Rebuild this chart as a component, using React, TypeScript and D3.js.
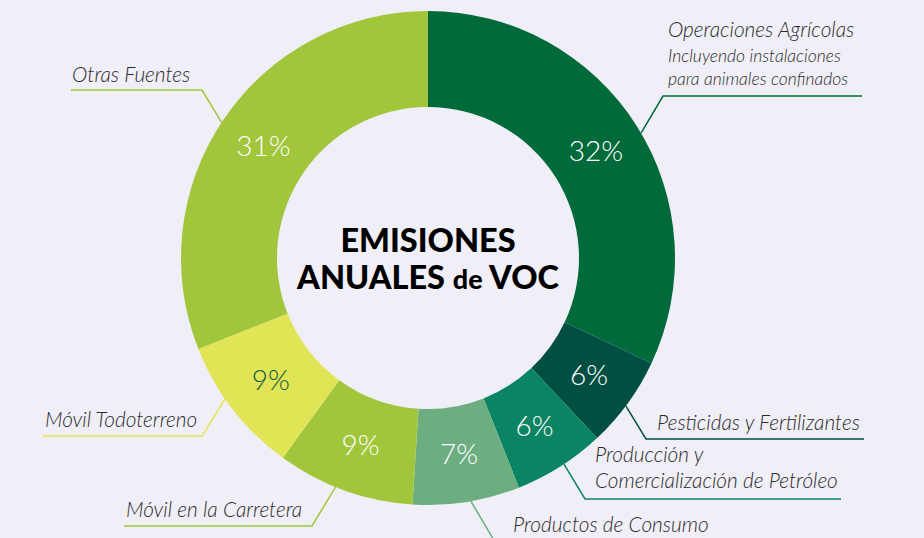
import React, { useEffect, useRef } from "react";
import * as d3 from "d3";

// slices clockwise from 12 o'clock
const categories = [
  "Operaciones Agrícolas",
  "Pesticidas y Fertilizantes",
  "Producción y Comercialización de Petróleo",
  "Productos de Consumo",
  "Móvil en la Carretera",
  "Móvil Todoterreno",
  "Otras Fuentes",
];
const shares = [32, 6, 6, 7, 9, 9, 31];
const colors = ["#006a3a", "#014f42", "#0b8463", "#6dae80", "#a2c63b", "#e1e555", "#a2c63b"];
const pctColors = ["#fff", "#fff", "#fff", "#fff", "#fff", "#0d5a44", "#fff"];

// label text lines per slice (first line bigger)
const labelLines = [
  ["Operaciones Agrícolas", "Incluyendo instalaciones", "para animales confinados"],
  ["Pesticidas y Fertilizantes"],
  ["Producción y", "Comercialización de Petróleo"],
  ["Productos de Consumo"],
  ["Móvil en la Carretera"],
  ["Móvil Todoterreno"],
  ["Otras Fuentes"],
];

const W = 924;
const H = 538;
const cx = 428;
const cy = 258;
const R = 247;
const r = 151;

// leader layout: edge angle (deg), elbow, line end, text x, baselines
const leaders = [
  { a: 59.6, elbow: [663, 96], end: 862, tx: 668, ty: [37, 62, 85] },
  { a: 126.8, elbow: [646, 439], end: 864, tx: 657, ty: [430] },
  { a: 146.6, elbow: [585, 499], end: 841, tx: 595, ty: [462, 488] },
  { a: 170, elbow: [495, 542], end: 720, tx: 513, ty: [532] },
  { a: 202, elbow: [312, 526], end: 124, tx: 126, ty: [517] },
  { a: 235.2, elbow: [202, 436], end: 43, tx: 45, ty: [427] },
  { a: 303.3, elbow: [202, 90], end: 71, tx: 72, ty: [82] },
];

export default function App() {
  const ref = useRef<SVGSVGElement>(null);

  useEffect(() => {
    const svg = d3.select(ref.current);
    svg.selectAll("*").remove();

    svg.append("rect").attr("width", W).attr("height", H).attr("fill", "#f0eff7");

    const pie = d3.pie<number>().sort(null).value((d) => d);
    const arcs = pie(shares);
    const arc = d3.arc<d3.PieArcDatum<number>>().innerRadius(r).outerRadius(R);

    const g = svg.append("g").attr("transform", `translate(${cx},${cy})`);

    g.selectAll("path")
      .data(arcs)
      .enter()
      .append("path")
      .attr("d", arc)
      .attr("fill", (d, i) => colors[i]);

    g.selectAll("text.pct")
      .data(arcs)
      .enter()
      .append("text")
      .attr("class", "pct")
      .attr("x", (d) => arc.centroid(d)[0])
      .attr("y", (d) => arc.centroid(d)[1])
      .attr("dy", "0.35em")
      .attr("text-anchor", "middle")
      .attr("fill", (d, i) => pctColors[i])
      .style("font-family", "Lato, sans-serif")
      .style("font-weight", 300)
      .style("font-size", "28px")
      .text((d) => d.data + "%");

    // center title
    const title = svg
      .append("text")
      .attr("text-anchor", "middle")
      .attr("fill", "#000")
      .style("font-family", "Lato, sans-serif")
      .style("font-weight", 900)
      .style("font-size", "32.5px");
    title.append("tspan").attr("x", cx).attr("y", 252).text("EMISIONES");
    const l2 = title.append("tspan").attr("x", cx).attr("y", 289);
    l2.append("tspan").text("ANUALES ");
    l2.append("tspan").style("font-size", "27px").text("de");
    l2.append("tspan").text(" VOC");

    // leaders and labels
    leaders.forEach((L, i) => {
      const ang = (L.a * Math.PI) / 180;
      const sx = cx + Math.sin(ang) * R;
      const sy = cy - Math.cos(ang) * R;
      svg
        .append("polyline")
        .attr("points", `${sx},${sy} ${L.elbow[0]},${L.elbow[1]} ${L.end},${L.elbow[1]}`)
        .attr("fill", "none")
        .attr("stroke", colors[i])
        .attr("stroke-width", 1.5);

      labelLines[i].forEach((t, j) => {
        svg
          .append("text")
          .attr("x", L.tx)
          .attr("y", L.ty[j])
          .attr("fill", "#2b2b2b")
          .style("font-family", "Lato, sans-serif")
          .style("font-style", "italic")
          .style("font-weight", 300)
          .style("font-size", i === 0 && j > 0 ? "17.5px" : "20.8px")
          .text(t);
      });
    });
  }, []);

  return (
    <svg
      ref={ref}
      width={W}
      height={H}
      style={{ position: "absolute", left: 0, top: 0, display: "block" }}
    />
  );
}
